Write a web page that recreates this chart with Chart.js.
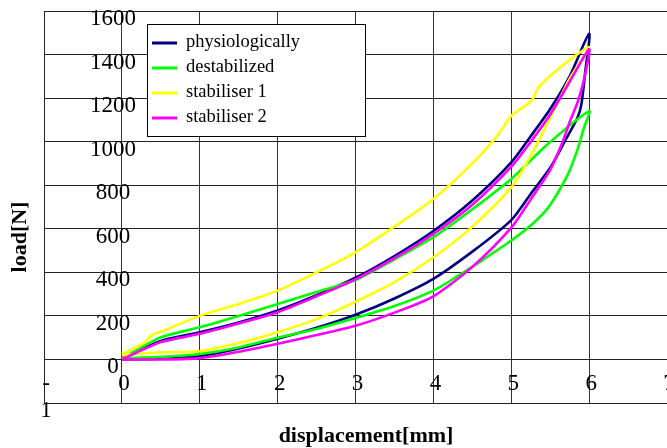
<!DOCTYPE html>
<html lang="en">
<head>
    <meta charset="UTF-8">
    <title>load vs displacement</title>
    <script src="https://cdn.jsdelivr.net/npm/chart.js"></script>
    <style>
        html, body { margin: 0; padding: 0; background: #fff; }
        .chart-box { width: 667px; height: 448px; }
    </style>
</head>
<body>
    <div class="chart-box">
        <canvas id="chart1" width="667" height="448"></canvas>
    </div>
    <script>
        // tick values and labels
        const xTicks = [-1, 0, 1, 2, 3, 4, 5, 6, 7];
        const xTickLabels = [['-', '1'], '0', '1', '2', '3', '4', '5', '6', '7'];
        const yTicks = [0, 200, 400, 600, 800, 1000, 1200, 1400, 1600];

        const seriesNames = ['physiologically', 'destabilized', 'stabiliser 1', 'stabiliser 2'];
        const seriesColors = ['#000080', '#00ff00', '#ffff00', '#ff00ff'];

        // loading branch 0 -> 6, then unloading branch 6 -> 0
        const physX = [0, 0.5, 1, 1.5, 2, 2.5, 3, 3.5, 4, 4.5, 5, 5.25, 5.5, 5.7, 5.85, 5.9, 5.95, 6,
                       5.75, 5.5, 5.25, 5, 4.5, 4, 3.5, 3, 2.5, 2, 1.5, 1, 0.5, 0.3, 0];
        const physY = [0, 3, 15, 50, 95, 145, 205, 280, 370, 495, 640, 760, 880, 1010, 1110, 1170, 1320, 1495,
                       1300, 1150, 1025, 905, 730, 590, 475, 375, 295, 225, 170, 125, 85, 55, 5];

        const destX = [0, 0.5, 1, 1.5, 2, 2.5, 3, 3.5, 4, 4.3, 4.62, 5, 5.25, 5.48, 5.73, 5.86, 5.93, 6,
                       5.47, 5, 4.5, 4, 3.5, 3, 2.5, 2, 1.5, 1, 0.5, 0.25, 0];
        const destY = [5, 12, 25, 55, 100, 140, 190, 245, 316, 380, 454, 546, 615, 700, 852, 974, 1060, 1140,
                       989, 829, 690, 561, 460, 365, 310, 255, 200, 148, 102, 55, 5];

        const stab1X = [0, 0.5, 1, 1.5, 2, 2.5, 3, 3.5, 4, 4.5, 5, 5.25, 5.5, 5.75, 6,
                        5.6, 5.35, 5.26, 5, 4.84, 4.5, 4, 3.5, 3, 2.5, 2, 1.5, 1, 0.5, 0.4, 0.27, 0];
        const stab1Y = [20, 33, 38, 75, 125, 185, 265, 355, 469, 610, 790, 935, 1110, 1290, 1435,
                        1333, 1249, 1188, 1119, 1036, 900, 737, 610, 492, 400, 316, 255, 200, 127, 115, 73, 25];

        const stab2X = [0, 0.5, 1, 1.5, 2, 2.5, 3, 3.5, 4, 4.5, 5, 5.25, 5.5, 5.65, 5.75, 5.86, 5.95, 6,
                        5.75, 5.5, 5.25, 5, 4.5, 4, 3.5, 3, 2.5, 2, 1.5, 1, 0.5, 0.3, 0];
        const stab2Y = [0, 0, 6, 35, 72, 112, 155, 215, 290, 425, 605, 735, 870, 990, 1090, 1190, 1310, 1425,
                        1275, 1125, 1000, 885, 710, 576, 465, 368, 290, 217, 165, 118, 80, 50, 0];

        const seriesX = [physX, destX, stab1X, stab2X];
        const seriesY = [physY, destY, stab1Y, stab2Y];

        const serif = '"Liberation Serif", "Times New Roman", serif';

        // tick labels, axis titles and the boxed legend
        const overlay = {
            id: 'overlay',
            afterDraw(chart) {
                const ctx = chart.ctx;
                const xs = chart.scales.x;
                const ys = chart.scales.y;
                ctx.save();
                ctx.fillStyle = '#000';
                ctx.textAlign = 'center';
                ctx.textBaseline = 'middle';
                ctx.font = '23px ' + serif;
                yTicks.forEach(v => ctx.fillText(String(v), 113, ys.getPixelForValue(v) + 8));
                const y0 = ys.getPixelForValue(0);
                xTicks.forEach((v, i) => {
                    [].concat(xTickLabels[i]).forEach((t, j) => {
                        ctx.fillText(t, xs.getPixelForValue(v) + 2, y0 + 25 + j * 27);
                    });
                });

                ctx.font = 'bold 22px ' + serif;
                ctx.fillText('displacement[mm]', 366, 436);
                ctx.save();
                ctx.translate(20, 237);
                ctx.rotate(-Math.PI / 2);
                ctx.fillText('load[N]', 0, 0);
                ctx.restore();

                // legend
                ctx.fillStyle = '#fff';
                ctx.fillRect(147, 24, 219, 113);
                ctx.strokeStyle = '#000';
                ctx.lineWidth = 1;
                ctx.strokeRect(147.5, 24.5, 218, 112);
                ctx.font = '18.5px ' + serif;
                ctx.textAlign = 'left';
                seriesNames.forEach((name, i) => {
                    const ly = 43 + i * 25;
                    ctx.strokeStyle = seriesColors[i];
                    ctx.lineWidth = 3;
                    ctx.beginPath();
                    ctx.moveTo(152, ly);
                    ctx.lineTo(177, ly);
                    ctx.stroke();
                    ctx.fillStyle = '#000';
                    ctx.fillText(name, 186, ly - 1);
                });
                ctx.restore();
            }
        };

        const ctx1 = document.getElementById('chart1').getContext('2d');
        new Chart(ctx1, {
            type: 'line',
            data: {
                datasets: seriesNames.map((name, i) => ({
                    label: name,
                    data: seriesX[i].map((x, k) => ({ x: x, y: seriesY[i][k] })),
                    borderColor: seriesColors[i],
                    backgroundColor: seriesColors[i],
                    borderWidth: 2.6,
                    pointRadius: 0,
                    tension: 0.25,
                    fill: false,
                    order: 4 - i
                }))
            },
            options: {
                responsive: false,
                animation: false,
                layout: { padding: { left: 44, top: 11, right: 0, bottom: 45 } },
                plugins: {
                    legend: { display: false },
                    tooltip: { enabled: false }
                },
                scales: {
                    x: {
                        type: 'linear',
                        min: -1,
                        max: 7,
                        ticks: { display: false, stepSize: 1 },
                        grid: { color: '#333', lineWidth: 1, drawTicks: false },
                        border: { color: '#222', width: 1 },
                        afterFit: (scale) => { scale.height = 0; }
                    },
                    y: {
                        min: -200,
                        max: 1600,
                        ticks: { display: false, stepSize: 200 },
                        grid: { color: '#222', lineWidth: 1, drawTicks: false },
                        border: { color: '#222', width: 1 },
                        afterFit: (scale) => { scale.width = 0; }
                    }
                }
            },
            plugins: [overlay]
        });
    </script>
</body>
</html>
